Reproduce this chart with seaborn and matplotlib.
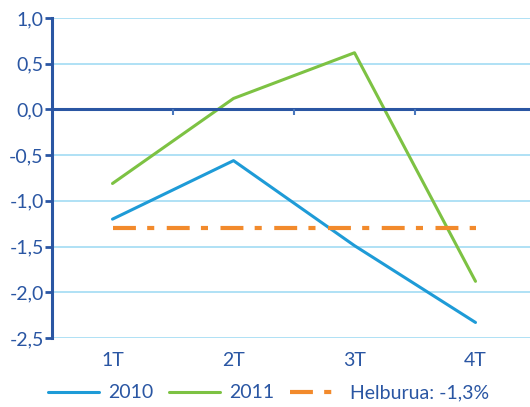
import pandas as pd
import numpy as np
import matplotlib.pyplot as plt
import seaborn as sns
from matplotlib.lines import Line2D

quarters = ['1T', '2T', '3T', '4T']
values_2010 = [-1.20, -0.56, -1.49, -2.33]
values_2011 = [-0.81, 0.12, 0.62, -1.88]
target = -1.3
target_label = 'Helburua: -1,3%'
y_ticks = [1.0, 0.5, 0.0, -0.5, -1.0, -1.5, -2.0, -2.5]

text_blue = '#2a56a3'
axis_blue = '#2a56a3'
grid_blue = '#a9def5'
c2010 = '#1e9bd7'
c2011 = '#7dc243'
c_target = '#f28a2c'
target_dash = (0, (5.5, 2.7, 1.7, 3.0))

sns.set_theme(style='white')
plt.rcParams['font.family'] = ['Lato', 'DejaVu Sans']

df = pd.DataFrame({'quarter': quarters * 3,
                   'value': values_2010 + values_2011 + [target] * 4,
                   'series': ['2010'] * 4 + ['2011'] * 4 + [target_label] * 4})

fig = plt.figure(figsize=(5.30, 4.07), dpi=100)
ax = fig.add_axes([52 / 530, 69 / 407, 484 / 530, 320 / 407])

# light blue grid
for yv in y_ticks:
    if yv != 0:
        ax.axhline(yv, color=grid_blue, linewidth=1.3, zorder=0)

sns.lineplot(data=df, x='quarter', y='value', hue='series', sort=False,
             palette={'2010': c2010, '2011': c2011, target_label: c_target},
             linewidth=2.2, ax=ax, legend=False)

for ln in ax.get_lines():
    if np.allclose(ln.get_ydata(), target):
        ln.set_linewidth(3.0)
        ln.set_linestyle(target_dash)

# zero line + small category ticks
ax.axhline(0, color=axis_blue, linewidth=2.2, zorder=3)
ax.vlines([0.5, 1.5, 2.5], -0.06, 0, color='#4a78bd', linewidth=1.5, zorder=3)

ax.set_xlim(-0.5, 3.5)
ax.set_ylim(-2.5, 1.0)
ax.set_yticks(y_ticks)
ax.set_yticklabels([f'{v:.1f}'.replace('.', ',') for v in y_ticks])
ax.set_xlabel('')
ax.set_ylabel('')

for s in ['top', 'right', 'bottom']:
    ax.spines[s].set_visible(False)
ax.spines['left'].set_color(axis_blue)
ax.spines['left'].set_linewidth(2.2)
ax.spines['left'].set_zorder(4)
ax.tick_params(axis='y', left=True, length=5, width=2, color=axis_blue,
               labelsize=14, labelcolor=text_blue, pad=1)
ax.tick_params(axis='x', bottom=False, length=0, labelsize=14,
               labelcolor=text_blue, pad=10)

handles = [Line2D([], [], color=c2010, linewidth=2.2),
           Line2D([], [], color=c2011, linewidth=2.2),
           Line2D([], [], color=c_target, linewidth=3.0, linestyle=target_dash)]
fig.legend(handles, ['2010', '2011', target_label], loc='center left',
           bbox_to_anchor=(48 / 530, 1 - 393 / 407), ncol=3, frameon=False,
           borderpad=0, borderaxespad=0, handlelength=2.6, handletextpad=0.5,
           columnspacing=0.8, fontsize=14, labelcolor=text_blue)

fig.savefig('out.png', dpi=100)
